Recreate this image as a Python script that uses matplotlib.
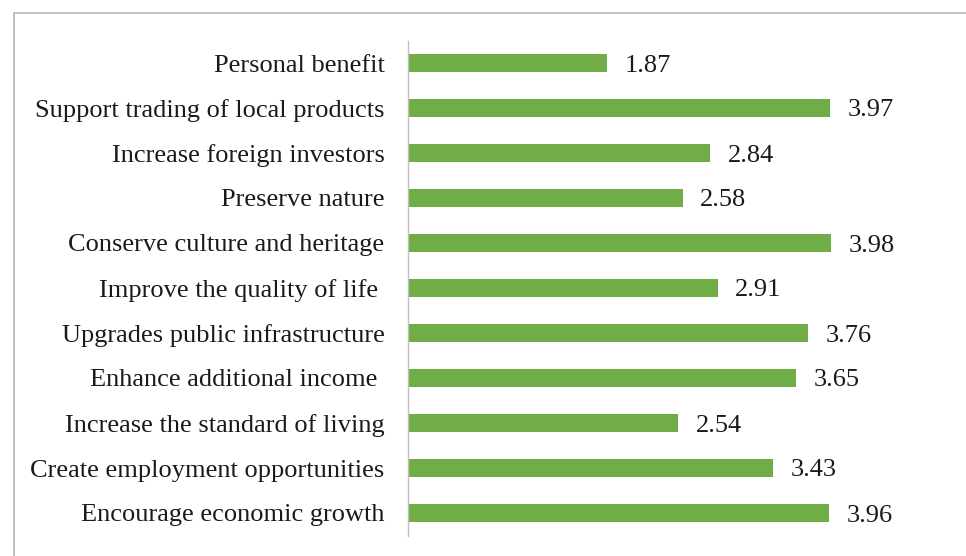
import matplotlib
matplotlib.use("Agg")
from matplotlib import pyplot as plt
from matplotlib.lines import Line2D
import numpy as np

# data, top to bottom as shown
labels = ["Personal benefit",
          "Support trading of local products",
          "Increase foreign investors",
          "Preserve nature",
          "Conserve culture and heritage",
          "Improve the quality of life ",
          "Upgrades public infrastructure",
          "Enhance additional income ",
          "Increase the standard of living",
          "Create employment opportunities",
          "Encourage economic growth"]
values = [1.87, 3.97, 2.84, 2.58, 3.98, 2.91, 3.76, 3.65, 2.54, 3.43, 3.96]

W, H = 966, 556
FS = 19
fig = plt.figure(figsize=(W/100, H/100), dpi=100)
ax = fig.add_axes([408/W, 1-535.5/H, (940-408)/W, (535.5-40.5)/H])

ypos = np.arange(len(labels))[::-1]
ax.barh(ypos, values, height=0.4, color="#70AD47")
for y, v in zip(ypos, values):
	ax.text(v + 0.165, y, "%.2f" % v, va="center_baseline", ha="left",
		fontsize=FS, family="Liberation Serif", color="#1a1a1a")

ax.set_xlim(0, 5)
ax.set_ylim(-0.5, len(labels) - 0.5)
ax.set_yticks(ypos)
ax.set_yticklabels(labels, fontsize=FS, family="Liberation Serif", color="#1a1a1a")
ax.tick_params(axis="y", length=0, pad=17)
ax.set_xticks([])
for s in ["top", "right", "bottom"]:
	ax.spines[s].set_visible(False)
ax.spines["left"].set_color("#BFBFBF")
ax.spines["left"].set_linewidth(1.0)

# outer frame (cropped on right and bottom)
fx = 13.5/W
fy = 1 - 12.5/H
fig.add_artist(Line2D([fx, fx, 1.0], [0.0, fy, fy], transform=fig.transFigure,
	color="#B5B5B5", linewidth=1.2))

fig.savefig("out.png", dpi=100)
